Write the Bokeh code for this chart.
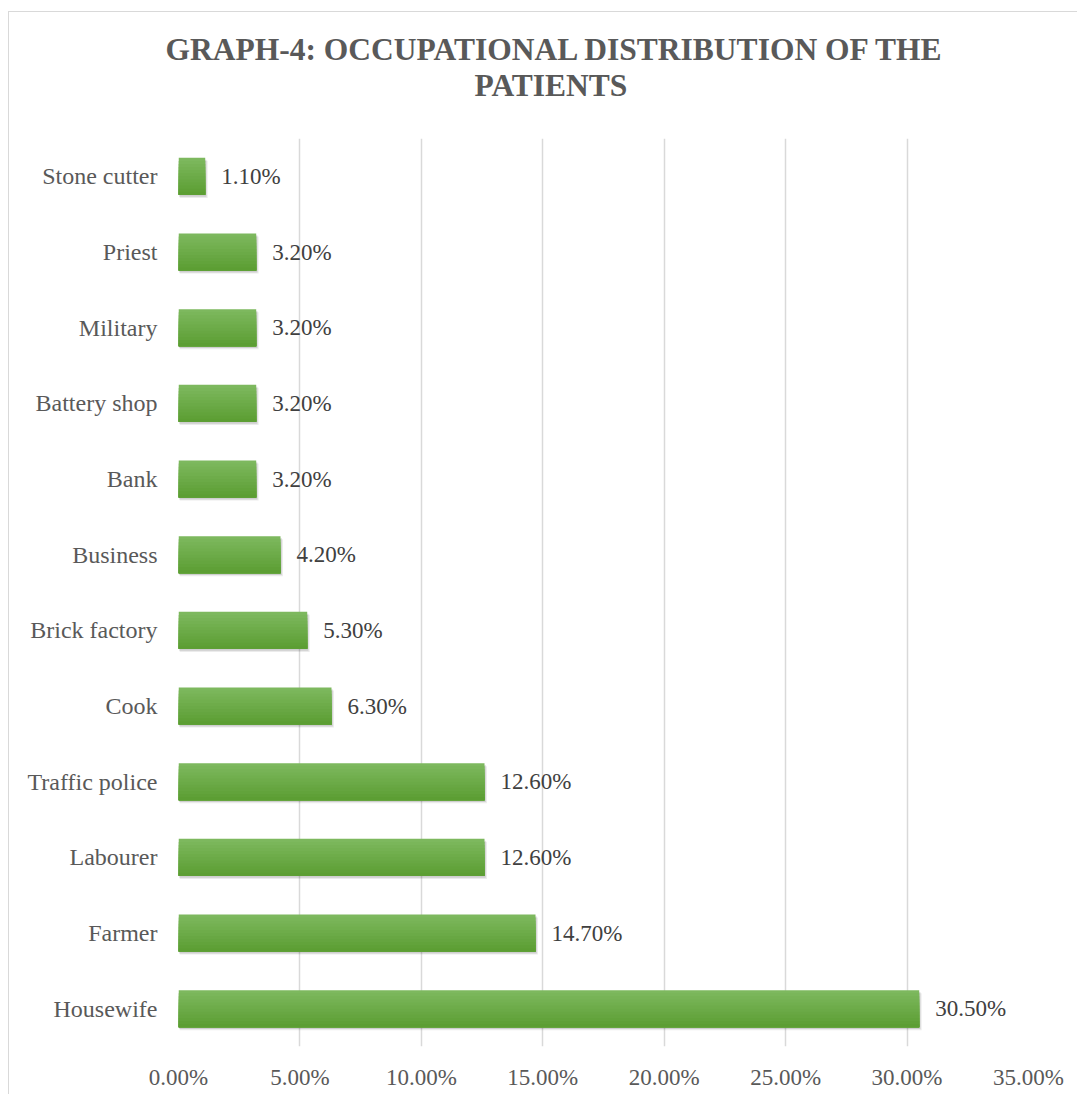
import numpy as np
from bokeh.plotting import figure
from bokeh.models import Range1d, FixedTicker, PrintfTickFormatter, Title, ColumnDataSource
from bokeh.core.properties import value
from bokeh.embed import file_html
from bokeh.resources import INLINE

# Data (bottom to top)
categories = ["Housewife", "Farmer", "Labourer", "Traffic police", "Cook", "Brick factory",
              "Business", "Bank", "Battery shop", "Military", "Priest", "Stone cutter"]
percentages = [30.5, 14.7, 12.6, 12.6, 6.3, 5.3, 4.2, 3.2, 3.2, 3.2, 3.2, 1.1]
x_ticks = [0, 5, 10, 15, 20, 25, 30, 35]
title_lines = ["GRAPH-4: OCCUPATIONAL DISTRIBUTION OF THE", "PATIENTS"]

FONT = "Liberation Serif"
ypos = np.arange(len(categories), dtype=float)
vals = np.array(percentages)

p = figure(width=1069, height=1083, output_backend="svg", toolbar_location=None,
           x_range=Range1d(0, 35), y_range=Range1d(-0.5, len(categories) - 0.5),
           min_border_left=169, min_border_right=50, min_border_top=126, min_border_bottom=49)
p.styles = {"margin-left": "8px", "margin-top": "11px",
            "border-left": "1px solid #d9d9d9", "border-top": "1px solid #d9d9d9"}
p.outline_line_color = None
p.background_fill_color = "white"
p.border_fill_color = "white"

# Title (two lines, each centred on the whole chart)
title_offsets = [-13, 296]
title_standoffs = [-74, 72]
for line, off, so in reversed(list(zip(title_lines, title_offsets, title_standoffs))):
    t = Title(text=line, align="left", text_font=FONT, text_font_size="31.5px",
              text_font_style="bold", text_color="#595959", offset=off, standoff=so)
    p.add_layout(t, "above")

# Grid
p.ygrid.grid_line_color = None
p.xgrid.grid_line_color = "#d9d9d9"
p.xgrid.grid_line_width = 1.5
p.xgrid.ticker = FixedTicker(ticks=x_ticks)

# X axis
p.xaxis.ticker = FixedTicker(ticks=x_ticks)
p.xaxis.formatter = PrintfTickFormatter(format="%.2f%%")
p.xaxis.axis_line_color = None
p.xaxis.major_tick_line_color = None
p.xaxis.minor_tick_line_color = None
p.xaxis.major_label_text_font = FONT
p.xaxis.major_label_text_font_size = "23px"
p.xaxis.major_label_text_color = "#595959"
p.xaxis.major_label_standoff = 12

# Y axis
p.yaxis.ticker = FixedTicker(ticks=list(ypos))
p.yaxis.major_label_overrides = {int(i): c for i, c in zip(ypos, categories)}
p.yaxis.axis_line_color = None
p.yaxis.major_tick_line_color = None
p.yaxis.minor_tick_line_color = None
p.yaxis.major_label_text_font = FONT
p.yaxis.major_label_text_font_size = "24px"
p.yaxis.major_label_text_color = "#595959"
p.yaxis.major_label_standoff = 15

H = 0.49
# Shadow
p.hbar(y=ypos - 0.04, left=0.05, right=vals + 0.1, height=H, fill_color="black",
       fill_alpha=0.08, line_color=None)
p.hbar(y=ypos - 0.025, left=0.03, right=vals + 0.05, height=H, fill_color="black",
       fill_alpha=0.12, line_color=None)

# Gradient bars: overlapping layers, each from its top down to the bar bottom
top = np.array([0x7d, 0xb8, 0x5e])
bot = np.array([0x5c, 0x9e, 0x33])
N = 12
bottom_edge = ypos - H / 2
for k in range(N):
    f = k / (N - 1)
    c = top + (bot - top) * f
    col = "#%02x%02x%02x" % tuple(int(round(v)) for v in c)
    top_edge = ypos + H / 2 - k * H / N
    p.quad(left=0, right=vals, top=top_edge, bottom=bottom_edge, fill_color=col, line_color=None)

# Data labels
src = ColumnDataSource(dict(x=vals, y=ypos, t=["%.2f%%" % v for v in vals]))
p.text(x="x", y="y", text="t", source=src, x_offset=16, text_align="left",
       text_baseline="middle", text_font=value(FONT), text_font_size="23px",
       text_color="#404040")

open("out.html", "w").write(file_html(p, INLINE))
